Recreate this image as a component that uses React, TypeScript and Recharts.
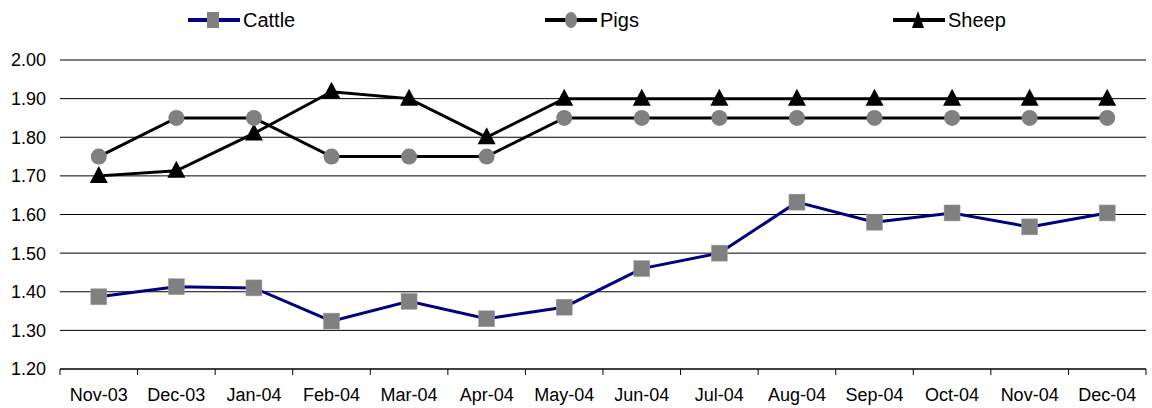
import React from "react";
import { LineChart, Line, XAxis, YAxis, CartesianGrid } from "recharts";

const months = ["Nov-03", "Dec-03", "Jan-04", "Feb-04", "Mar-04", "Apr-04", "May-04", "Jun-04", "Jul-04", "Aug-04", "Sep-04", "Oct-04", "Nov-04", "Dec-04"];
const cattle = [1.387, 1.413, 1.41, 1.324, 1.375, 1.33, 1.36, 1.46, 1.5, 1.632, 1.58, 1.604, 1.568, 1.604];
const pigs = [1.75, 1.85, 1.85, 1.75, 1.75, 1.75, 1.85, 1.85, 1.85, 1.85, 1.85, 1.85, 1.85, 1.85];
const sheep = [1.7, 1.713, 1.81, 1.918, 1.9, 1.8, 1.9, 1.9, 1.9, 1.9, 1.9, 1.9, 1.9, 1.9];
const yTicks = [1.2, 1.3, 1.4, 1.5, 1.6, 1.7, 1.8, 1.9, 2.0];

const data = months.map((m, i) => ({ month: m, Cattle: cattle[i], Pigs: pigs[i], Sheep: sheep[i] }));

const FONT = "'Liberation Sans', Arial, sans-serif";
const W = 1152;
const H = 408;
const margin = { top: 60, right: 6, left: 10, bottom: 9 };

const SquareDot = (p: any) => {
  const { cx, cy } = p;
  if (cx == null || cy == null) return null;
  return <rect key={p.key} x={cx - 8} y={cy - 8} width={16} height={16} fill="#808080" stroke="#a0a0a0" strokeWidth={0.5} />;
};
const CircleDot = (p: any) => {
  const { cx, cy } = p;
  if (cx == null || cy == null) return null;
  return <circle key={p.key} cx={cx} cy={cy} r={8} fill="#808080" />;
};
const TriDot = (p: any) => {
  const { cx, cy } = p;
  if (cx == null || cy == null) return null;
  return <polygon key={p.key} points={`${cx},${cy - 10} ${cx - 9},${cy + 7} ${cx + 9},${cy + 7}`} fill="#000" />;
};

const XTick = (p: any) => {
  const { x, y, payload, index, visibleTicksCount } = p;
  const plotW = W - margin.left - 50 - margin.right;
  const half = payload && payload.offset ? payload.offset : plotW / (visibleTicksCount || months.length) / 2;
  const last = index === (visibleTicksCount || months.length) - 1;
  return (
    <g>
      <line x1={x - half} x2={x - half} y1={y} y2={y + 6} stroke="#000" strokeWidth={1} />
      {last && <line x1={x + half} x2={x + half} y1={y} y2={y + 6} stroke="#000" strokeWidth={1} />}
      <text x={x} y={y + 32} textAnchor="middle" fontFamily={FONT} fontSize={18} fill="#000">
        {payload.value}
      </text>
    </g>
  );
};

const legendItems = [
  { name: "Cattle", color: "#000080", left: 188, Marker: () => <rect x={19} y={6} width={12} height={16} fill="#808080" /> },
  { name: "Pigs", color: "#000", left: 545, Marker: () => <ellipse cx={26} cy={14} rx={6} ry={8} fill="#808080" /> },
  { name: "Sheep", color: "#000", left: 893, Marker: () => <polygon points="25,5 19,22 31,22" fill="#000" /> },
];

const CustomLegend = () => (
  <div style={{ position: "relative", width: W, height: 30 }}>
    {legendItems.map((it) => (
      <div key={it.name} style={{ position: "absolute", left: it.left, top: 0, display: "flex", alignItems: "center" }}>
        <svg width={52} height={28}>
          <line x1={0} x2={52} y1={14} y2={14} stroke={it.color} strokeWidth={4} />
          <it.Marker />
        </svg>
        <span style={{ fontFamily: FONT, fontSize: 20, color: "#000", marginLeft: 3 }}>{it.name}</span>
      </div>
    ))}
  </div>
);

export default function App() {
  return (
    <div style={{ position: "absolute", left: 0, top: 0, width: W, height: H, background: "#fff" }}>
      <div style={{ position: "absolute", left: 0, top: 6 }}>
        <CustomLegend />
      </div>
      <LineChart width={W} height={H} data={data} margin={margin}>
        <CartesianGrid vertical={false} stroke="#000" strokeWidth={1} />
        <XAxis
          dataKey="month"
          scale="band"
          interval={0}
          tickLine={false}
          tickSize={0}
          tickMargin={0}
          height={30}
          axisLine={{ stroke: "#000", strokeWidth: 1 }}
          tick={<XTick />}
        />
        <YAxis
          domain={[1.2, 2.0]}
          ticks={yTicks}
          width={50}
          axisLine={false}
          tickLine={false}
          tickMargin={8}
          tickSize={6}
          tickFormatter={(v: number) => v.toFixed(2)}
          tick={{ fontFamily: FONT, fontSize: 18, fill: "#000" }}
        />
        <Line dataKey="Cattle" stroke="#000080" strokeWidth={3} dot={SquareDot} activeDot={false} isAnimationActive={false} />
        <Line dataKey="Sheep" stroke="#000" strokeWidth={3} dot={TriDot} activeDot={false} isAnimationActive={false} />
        <Line dataKey="Pigs" stroke="#000" strokeWidth={3} dot={CircleDot} activeDot={false} isAnimationActive={false} />
      </LineChart>
    </div>
  );
}
